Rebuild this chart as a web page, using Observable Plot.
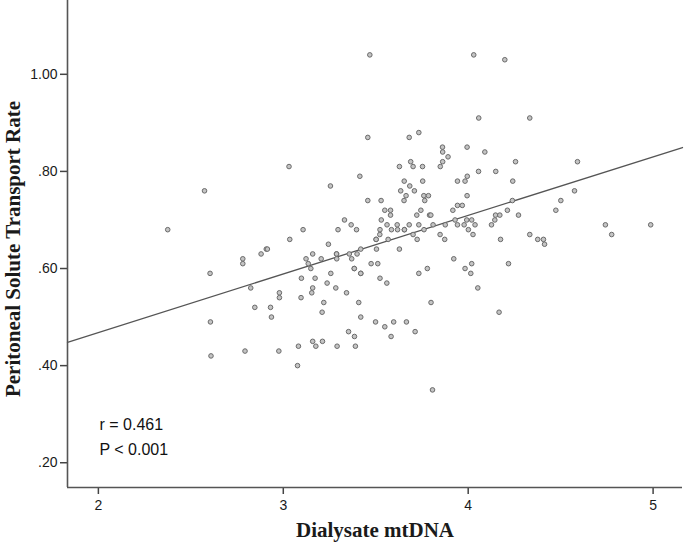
<!DOCTYPE html>
<html>
<head>
<meta charset="utf-8">
<script src="https://cdn.jsdelivr.net/npm/d3@7"></script>
<script src="https://cdn.jsdelivr.net/npm/@observablehq/plot@0.6"></script>
<style>
  html, body { margin: 0; padding: 0; background: #fff; }
  #chart { width: 685px; height: 550px; }
</style>
</head>
<body>
<div id="chart"></div>
<script>
// Dialysate mtDNA (x) values
const mtDNA = [
  2.375, 2.574, 2.604, 2.606, 2.609, 2.781, 2.781, 2.793, 2.824, 2.846, 2.880, 2.908, 2.914, 2.931, 2.936, 2.976, 2.979, 2.979, 3.031, 3.035,
  3.077, 3.082, 3.096, 3.098, 3.107, 3.123, 3.135, 3.149, 3.154, 3.159, 3.159, 3.159, 3.172, 3.176, 3.205, 3.210, 3.212, 3.219, 3.237, 3.244,
  3.255, 3.257, 3.284, 3.288, 3.288, 3.289, 3.291, 3.296, 3.331, 3.342, 3.353, 3.357, 3.367, 3.370, 3.384, 3.384, 3.385, 3.390, 3.396, 3.399,
  3.408, 3.414, 3.419, 3.419, 3.419, 3.419, 3.457, 3.457, 3.468, 3.475, 3.499, 3.502, 3.502, 3.504, 3.511, 3.522, 3.523, 3.523, 3.529, 3.530,
  3.549, 3.549, 3.560, 3.561, 3.567, 3.580, 3.580, 3.583, 3.585, 3.597, 3.616, 3.618, 3.628, 3.628,
  3.635, 3.654, 3.653, 3.655, 3.655, 3.664, 3.666, 3.681, 3.681, 3.684, 3.689, 3.702, 3.702, 3.709, 3.713, 3.722, 3.724, 3.733, 3.733, 3.733,
  3.744, 3.753, 3.754, 3.760, 3.761, 3.765, 3.779, 3.785, 3.791, 3.798, 3.799, 3.807, 3.810, 3.849, 3.848, 3.861, 3.862, 3.862, 3.873, 3.876,
  3.891, 3.917, 3.922, 3.929, 3.942, 3.942, 3.942, 3.968, 3.978, 3.983, 3.983, 3.992, 3.994, 3.995, 3.994, 4.001, 4.014, 4.019, 4.019, 4.026,
  4.030, 4.037, 4.052, 4.056, 4.057, 4.090, 4.126, 4.144, 4.148, 4.149, 4.167, 4.175, 4.171,
  4.198, 4.212, 4.218, 4.239, 4.241, 4.256, 4.272, 4.333, 4.333, 4.376, 4.407, 4.413, 4.474, 4.501, 4.575, 4.591, 4.742, 4.776, 4.987
];
// Peritoneal Solute Transport Rate (y) values
const pstr = [
  0.68, 0.76, 0.59, 0.49, 0.42, 0.62, 0.61, 0.43, 0.56, 0.52, 0.63, 0.64, 0.64, 0.52, 0.50, 0.43, 0.55, 0.54, 0.81, 0.66,
  0.40, 0.44, 0.54, 0.58, 0.68, 0.62, 0.61, 0.60, 0.55, 0.56, 0.63, 0.45, 0.58, 0.44, 0.62, 0.51, 0.45, 0.53, 0.57, 0.65,
  0.77, 0.59, 0.56, 0.63, 0.63, 0.62, 0.44, 0.68, 0.70, 0.55, 0.47, 0.63, 0.69, 0.62, 0.60, 0.60, 0.46, 0.44, 0.68, 0.63,
  0.53, 0.79, 0.64, 0.59, 0.59, 0.50, 0.87, 0.74, 1.04, 0.61, 0.49, 0.66, 0.66, 0.64, 0.61, 0.67, 0.68, 0.58, 0.74, 0.70,
  0.72, 0.48, 0.57, 0.69, 0.66, 0.72, 0.71, 0.46, 0.68, 0.49, 0.69, 0.68, 0.81, 0.64,
  0.76, 0.78, 0.74, 0.68, 0.68, 0.75, 0.49, 0.87, 0.69, 0.77, 0.82, 0.81, 0.67, 0.76, 0.47, 0.71, 0.66, 0.88, 0.69, 0.59,
  0.72, 0.81, 0.78, 0.75, 0.68, 0.74, 0.60, 0.75, 0.71, 0.71, 0.53, 0.35, 0.69, 0.81, 0.67, 0.85, 0.84, 0.82, 0.66, 0.69,
  0.83, 0.72, 0.62, 0.70, 0.78, 0.73, 0.69, 0.73, 0.69, 0.78, 0.60, 0.70, 0.85, 0.79, 0.75, 0.68, 0.59, 0.70, 0.61, 0.67,
  1.04, 0.69, 0.56, 0.80, 0.91, 0.84, 0.69, 0.70, 0.71, 0.80, 0.51, 0.66, 0.71,
  1.03, 0.72, 0.61, 0.74, 0.78, 0.82, 0.71, 0.91, 0.67, 0.66, 0.66, 0.65, 0.72, 0.74, 0.76, 0.82, 0.69, 0.67, 0.69
];
const xTicks = [2, 3, 4, 5];
const yTicks = [0.2, 0.4, 0.6, 0.8, 1.0];
const xTitle = "Dialysate mtDNA";
const yTitle = "Peritoneal Solute Transport Rate";
const statLines = ["r = 0.461", "P < 0.001"];
const fitSlope = 0.1206;
const fitIntercept = 0.227;

const xDomain = [1.833, 5.159];
const yDomain = [0.149, 1.152];

const points = mtDNA.map((x, i) => ({x, y: pstr[i]}));
const fitLine = xDomain.map(x => ({x, y: fitIntercept + fitSlope * x}));

const sans = "'Liberation Sans', Arial, sans-serif";
const serif = "'Liberation Serif', 'Times New Roman', serif";

const chart = Plot.plot({
  width: 685,
  height: 550,
  marginLeft: 67,
  marginRight: 3,
  marginTop: 0,
  marginBottom: 63,
  style: {fontFamily: sans, fontSize: "14px", color: "#1a1a1a", background: "#fff", overflow: "visible"},
  x: {domain: xDomain, label: null},
  y: {domain: yDomain, label: null},
  marks: [
    Plot.axisX({ticks: xTicks, tickSize: 7, tickPadding: 6, tickFormat: d => String(d), stroke: "#444", strokeWidth: 1.5, fontSize: 14, label: null}),
    Plot.axisY({ticks: yTicks, tickSize: 7, tickPadding: 3, tickFormat: d => d3.format(".2f")(d).replace(/^0/, ""), stroke: "#444", strokeWidth: 1.5, fontSize: 14, label: null}),
    Plot.ruleX([xDomain[0]], {stroke: "#555", strokeWidth: 1.6}),
    Plot.ruleY([yDomain[0]], {stroke: "#555", strokeWidth: 1.6}),
    Plot.line(fitLine, {x: "x", y: "y", stroke: "#555", strokeWidth: 1.3}),
    Plot.dot(points, {x: "x", y: "y", r: 2.3, fill: "#c4c4c4", stroke: "#6a6a6a", strokeWidth: 1}),
    Plot.text([statLines.join("\n")], {frameAnchor: "bottom-left", textAnchor: "start", lineAnchor: "top", dx: 32, dy: -75, lineHeight: 1.54, fontSize: 16, fontFamily: sans, fill: "#111"}),
    Plot.text([xTitle], {frameAnchor: "bottom", textAnchor: "middle", dy: 49, fontSize: 21, fontWeight: "bold", fontFamily: serif, fill: "#1a1a1a"}),
    Plot.text([yTitle], {frameAnchor: "left", textAnchor: "middle", dx: -54, dy: 5, rotate: -90, fontSize: 21, fontWeight: "bold", fontFamily: serif, fill: "#1a1a1a"})
  ]
});
document.getElementById("chart").appendChild(chart);
</script>
</body>
</html>
